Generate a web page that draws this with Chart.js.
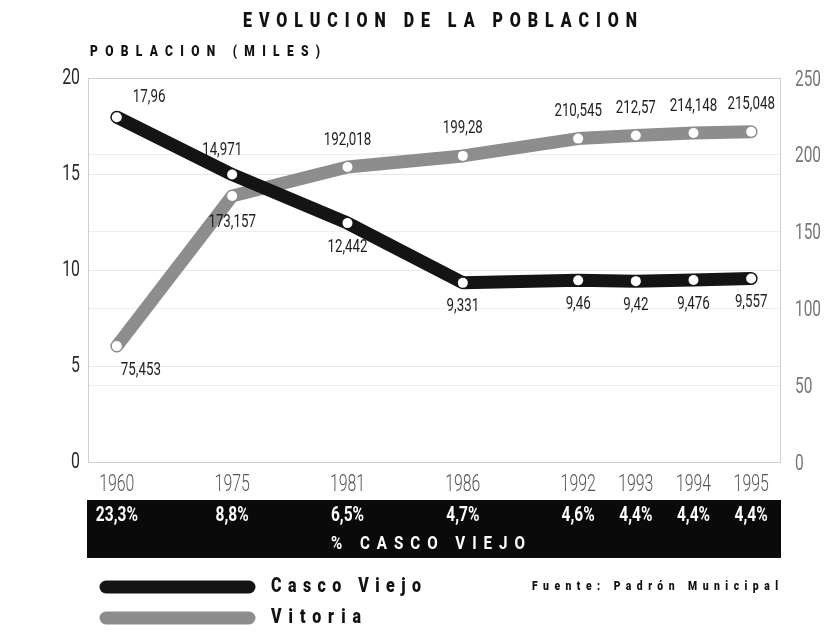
<!DOCTYPE html>
<html>
<head>
<meta charset="utf-8">
<script src="https://cdn.jsdelivr.net/npm/chart.js@4.4.1/dist/chart.umd.min.js"></script>
<style>
  html, body { margin: 0; padding: 0; background: #fff; }
</style>
</head>
<body>
<canvas id="poblacion-chart" width="827" height="642"></canvas>
<script>
// empty slots keep the wider spacing between the early census years
const years = ["1960", "", "1975", "", "1981", "", "1986", "", "1992", "1993", "1994", "1995"];
const cascoViejo = [17.96, null, 14.971, null, 12.442, null, 9.331, null, 9.46, 9.42, 9.476, 9.557];
const vitoria = [75.453, null, 173.157, null, 192.018, null, 199.28, null, 210.545, 212.57, 214.148, 215.048];
const pctCascoViejo = [23.3, null, 8.8, null, 6.5, null, 4.7, null, 4.6, 4.4, 4.4, 4.4];

const leftTicks = { min: 0, max: 20, step: 5 };
const rightTicks = { min: 0, max: 250, step: 50 };

// where each value label sits relative to its point
const cascoLabelPos = ["aboveRight", null, "aboveLeft", null, "below", null, "below", null, "below", "below", "below", "below"];
const vitoriaLabelPos = ["belowRight", null, "below", null, "above", null, "above", null, "above", "above", "above", "above"];

const FONT = 'Roboto, "Liberation Sans", sans-serif';
const BLACK = "#141414";
const GREY = "#8d8d8d";

const toComma = (n) => String(n).replace(".", ",");

// there is no condensed face installed, so squeeze the text horizontally
function drawText(ctx, text, x, y, align, sx) {
  ctx.save();
  ctx.translate(x, y);
  ctx.scale(sx, 1);
  ctx.textAlign = align;
  ctx.fillText(text, 0, 0);
  ctx.restore();
}

function spacedText(ctx, text, x, y, width, sx) {
  // stretch the text to a given width with letter spacing, left aligned
  ctx.save();
  ctx.translate(x, y);
  ctx.scale(sx, 1);
  ctx.letterSpacing = "0px";
  const w0 = ctx.measureText(text).width;
  const gap = Math.max(0, (width / sx - w0) / (text.length - 1));
  ctx.letterSpacing = gap + "px";
  ctx.textAlign = "left";
  ctx.fillText(text, 0, 0);
  ctx.restore();
}

const valueLabels = {
  id: "valueLabels",
  afterDatasetsDraw(chart) {
    const ctx = chart.ctx;
    ctx.save();
    ctx.font = "400 18px " + FONT;
    ctx.fillStyle = "#1e1e1e";
    ctx.textBaseline = "middle";
    chart.data.datasets.forEach((ds, i) => {
      const meta = chart.getDatasetMeta(i);
      const places = i === 0 ? cascoLabelPos : vitoriaLabelPos;
      meta.data.forEach((pt, idx) => {
        const v = ds.data[idx];
        if (v === null || v === undefined) return;
        const place = places[idx];
        let x = pt.x, y = pt.y, align = "center";
        if (place === "above") y -= i === 1 ? 27 : 24;
        if (place === "below") y += i === 1 ? 26 : 24;
        if (place === "aboveLeft") { x -= 10; y -= 24; }
        if (place === "aboveRight") { x += 16; y -= 20; align = "left"; }
        if (place === "belowRight") { x += 4; y += 24; align = "left"; }
        drawText(ctx, toComma(v), x, y, align, 0.74);
      });
    });
    ctx.restore();
  },
};

const decorations = {
  id: "decorations",
  beforeDatasetsDraw(chart) {
    const { ctx, chartArea } = chart;
    ctx.save();
    ctx.strokeStyle = "#cfcfcf";
    ctx.lineWidth = 1;
    ctx.strokeRect(chartArea.left + 0.5, chartArea.top + 0.5,
      chartArea.right - chartArea.left, chartArea.bottom - chartArea.top);
    ctx.restore();
  },
  afterDraw(chart) {
    const { ctx, chartArea } = chart;
    const { x: xScale, y: yScale, y1: y1Scale } = chart.scales;
    ctx.save();
    ctx.textBaseline = "middle";

    // axis tick labels, placed by the scales
    ctx.font = "300 24px " + FONT;
    ctx.fillStyle = "#555";
    xScale.ticks.forEach((t) => {
      const lbl = years[t.value];
      if (!lbl) return;
      drawText(ctx, lbl, xScale.getPixelForValue(t.value), 485, "center", 0.66);
    });
    ctx.font = "400 22px " + FONT;
    ctx.fillStyle = "#2a2a2a";
    yScale.ticks.forEach((t) => {
      drawText(ctx, String(t.value), chartArea.left - 8, yScale.getPixelForValue(t.value), "right", 0.72);
    });
    ctx.fillStyle = "#777";
    y1Scale.ticks.forEach((t) => {
      drawText(ctx, String(t.value), chartArea.right + 15, y1Scale.getPixelForValue(t.value) + 2, "left", 0.7);
    });

    // titles
    ctx.fillStyle = "#111";
    ctx.font = "900 20px " + FONT;
    spacedText(ctx, "EVOLUCION DE LA POBLACION", 243, 22, 394, 0.8);
    ctx.font = "900 15px " + FONT;
    spacedText(ctx, "POBLACION (MILES)", 90, 52, 230, 0.8);

    // black band with the share of the old town
    ctx.fillStyle = "#0a0a0a";
    ctx.fillRect(chartArea.left - 1, 500, chartArea.right - chartArea.left + 2, 58);
    ctx.fillStyle = "#fff";
    ctx.font = "700 21px " + FONT;
    pctCascoViejo.forEach((p, idx) => {
      if (p === null) return;
      drawText(ctx, toComma(p) + "%", xScale.getPixelForValue(idx), 516, "center", 0.74);
    });
    ctx.font = "700 19px " + FONT;
    spacedText(ctx, "% CASCO VIEJO", 331, 544, 194, 0.8);

    // legend
    ctx.lineCap = "round";
    ctx.lineWidth = 13;
    chart.data.datasets.forEach((ds, i) => {
      const y = 587 + i * 31;
      ctx.strokeStyle = ds.borderColor;
      ctx.beginPath();
      ctx.moveTo(106, y);
      ctx.lineTo(249, y);
      ctx.stroke();
      ctx.fillStyle = "#111";
      ctx.font = "900 20px " + FONT;
      spacedText(ctx, ds.label, 271, y, i === 0 ? 150 : 90, 0.8);
    });
    ctx.font = "900 13px " + FONT;
    spacedText(ctx, "Fuente: Padrón Municipal", 532, 587, 246, 0.8);
    ctx.restore();
  },
};

new Chart(document.getElementById("poblacion-chart"), {
  type: "line",
  data: {
    labels: years,
    datasets: [
      {
        label: "Casco Viejo",
        data: cascoViejo,
        yAxisID: "y",
        borderColor: BLACK,
        borderWidth: 13,
        borderCapStyle: "round",
        borderJoinStyle: "round",
        pointRadius: 5,
        pointBorderWidth: 0,
        pointBackgroundColor: "#fff",
        spanGaps: true,
        tension: 0,
      },
      {
        label: "Vitoria",
        data: vitoria,
        yAxisID: "y1",
        borderColor: GREY,
        borderWidth: 13,
        borderCapStyle: "round",
        borderJoinStyle: "round",
        pointRadius: 5,
        pointBorderWidth: 0,
        pointBackgroundColor: "#fff",
        spanGaps: true,
        tension: 0,
      },
    ],
  },
  options: {
    responsive: false,
    animation: false,
    devicePixelRatio: 1,
    layout: { padding: { top: 78, left: 0, right: 0, bottom: 0 } },
    plugins: {
      legend: { display: false },
      tooltip: { enabled: false },
    },
    scales: {
      x: {
        offset: true,
        grid: { display: false, drawTicks: false },
        border: { display: false },
        ticks: { display: false, autoSkip: false, maxRotation: 0 },
        afterFit(scale) { scale.height = 180; },
      },
      y: {
        position: "left",
        min: leftTicks.min,
        max: leftTicks.max,
        grid: { color: "#e8e8e8", drawTicks: false },
        border: { display: false },
        ticks: { display: false, stepSize: leftTicks.step },
        afterFit(scale) { scale.width = 88; },
      },
      y1: {
        position: "right",
        min: rightTicks.min,
        max: rightTicks.max,
        grid: { color: "#eeeeee", drawTicks: false },
        border: { display: false },
        ticks: { display: false, stepSize: rightTicks.step },
        afterFit(scale) { scale.width = 47; },
      },
    },
  },
  plugins: [decorations, valueLabels],
});
</script>
</body>
</html>
